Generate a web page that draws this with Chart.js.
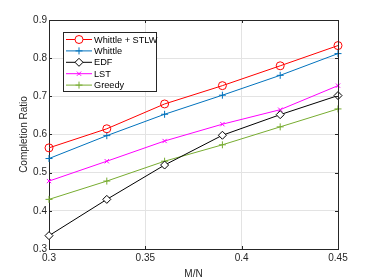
<!DOCTYPE html>
<html>
<head>
<meta charset="utf-8">
<script src="https://cdn.jsdelivr.net/npm/chart.js@4.4.1/dist/chart.umd.min.js"></script>
<style>
    html, body { margin: 0; padding: 0; background: #fff; }
    #wrap { width: 374px; height: 280px; }
</style>
</head>
<body>
<div id="wrap"><canvas id="chart" width="374" height="280"></canvas></div>
<script>
const ratios = [0.30, 0.33, 0.36, 0.39, 0.42, 0.45];
const whittleStlw = [0.565, 0.615, 0.680, 0.728, 0.780, 0.833];
const whittle = [0.537, 0.597, 0.653, 0.703, 0.755, 0.812];
const edf = [0.335, 0.430, 0.520, 0.598, 0.652, 0.702];
const lst = [0.478, 0.530, 0.583, 0.627, 0.665, 0.728];
const greedy = [0.430, 0.478, 0.530, 0.573, 0.620, 0.667];

const FONT = 'Liberation Sans, Arial, sans-serif';

function series(label, values, color, style, radius) {
    return {
        label: label,
        data: values.map((v, i) => ({ x: ratios[i], y: v })),
        borderColor: color,
        backgroundColor: 'rgba(0,0,0,0)',
        pointBorderColor: color,
        pointBackgroundColor: style === 'rectRot' ? '#fff' : 'rgba(0,0,0,0)',
        pointStyle: style,
        pointRadius: radius,
        pointBorderWidth: 1,
        borderWidth: 1,
        tension: 0,
        clip: false
    };
}

// legend box inside the axes, frame lines and the small inward ticks
const frameAndLegend = {
    id: 'frameAndLegend',
    afterDraw(chart) {
        const ctx = chart.ctx;
        const a = chart.chartArea;
        ctx.save();
        ctx.strokeStyle = '#262626';
        ctx.lineWidth = 1;
        ctx.beginPath();
        ctx.moveTo(a.left, a.top + 0.5);
        ctx.lineTo(a.right + 0.5, a.top + 0.5);
        ctx.lineTo(a.right + 0.5, a.bottom);
        chart.scales.x.ticks.forEach((t) => {
            const px = Math.round(chart.scales.x.getPixelForValue(t.value)) + 0.5;
            ctx.moveTo(px, a.bottom);
            ctx.lineTo(px, a.bottom - 3);
            ctx.moveTo(px, a.top);
            ctx.lineTo(px, a.top + 3);
        });
        chart.scales.y.ticks.forEach((t) => {
            const py = Math.round(chart.scales.y.getPixelForValue(t.value)) + 0.5;
            ctx.moveTo(a.left, py);
            ctx.lineTo(a.left + 3, py);
            ctx.moveTo(a.right, py);
            ctx.lineTo(a.right - 3, py);
        });
        ctx.stroke();

        const bx = 63, by = 32, bw = 93, bh = 59;
        ctx.fillStyle = '#fff';
        ctx.fillRect(bx, by, bw, bh);
        ctx.strokeRect(bx + 0.5, by + 0.5, bw, bh);

        ctx.font = '9.2px ' + FONT;
        ctx.textBaseline = 'middle';
        chart.data.datasets.forEach((ds, i) => {
            const y = 39.5 + i * 11.4;
            ctx.strokeStyle = ds.borderColor;
            ctx.lineWidth = 1;
            ctx.beginPath();
            ctx.moveTo(66, y);
            ctx.lineTo(92, y);
            ctx.stroke();
            ctx.fillStyle = '#fff';
            Chart.helpers.drawPoint(ctx, {
                pointStyle: ds.pointStyle,
                radius: ds.pointRadius,
                borderWidth: 1
            }, 79, y);
            ctx.fillStyle = '#000';
            ctx.fillText(ds.label, 94, y + 0.5);
        });
        ctx.restore();
    }
};

new Chart(document.getElementById('chart'), {
    type: 'line',
    data: {
        datasets: [
            series('Whittle + STLW', whittleStlw, '#ff0000', 'circle', 4),
            series('Whittle', whittle, '#0072bd', 'cross', 3.5),
            series('EDF', edf, '#000000', 'rectRot', 4),
            series('LST', lst, '#ff00ff', 'crossRot', 3),
            series('Greedy', greedy, '#77ac30', 'cross', 3.5)
        ]
    },
    options: {
        responsive: false,
        animation: false,
        layout: { padding: { top: 20, right: 36, left: 0, bottom: 0 } },
        plugins: {
            legend: { display: false },
            tooltip: { enabled: false }
        },
        scales: {
            x: {
                type: 'linear',
                min: 0.3,
                max: 0.45,
                afterFit(scale) { scale.height = 31; },
                afterBuildTicks(scale) {
                    scale.ticks = [0.3, 0.35, 0.4, 0.45].map(v => ({ value: v }));
                },
                ticks: {
                    color: '#262626',
                    font: { family: FONT, size: 10 },
                    padding: 3,
                    maxRotation: 0,
                    callback: v => String(Number(v.toFixed(2)))
                },
                grid: { color: '#e3e3e3', drawTicks: false },
                border: { color: '#262626' },
                title: {
                    display: true,
                    text: 'M/N',
                    color: '#262626',
                    font: { family: FONT, size: 10 },
                    padding: { top: 2, bottom: 0 }
                }
            },
            y: {
                min: 0.3,
                max: 0.9,
                afterFit(scale) { scale.width = 49; },
                ticks: {
                    stepSize: 0.1,
                    color: '#262626',
                    font: { family: FONT, size: 10 },
                    padding: 2,
                    callback: v => String(Number(v.toFixed(1)))
                },
                grid: { color: '#e3e3e3', drawTicks: false },
                border: { color: '#262626' },
                title: {
                    display: true,
                    text: 'Completion Ratio',
                    color: '#262626',
                    font: { family: FONT, size: 10 },
                    padding: { top: 18, bottom: 2 }
                }
            }
        }
    },
    plugins: [frameAndLegend]
});
</script>
</body>
</html>
